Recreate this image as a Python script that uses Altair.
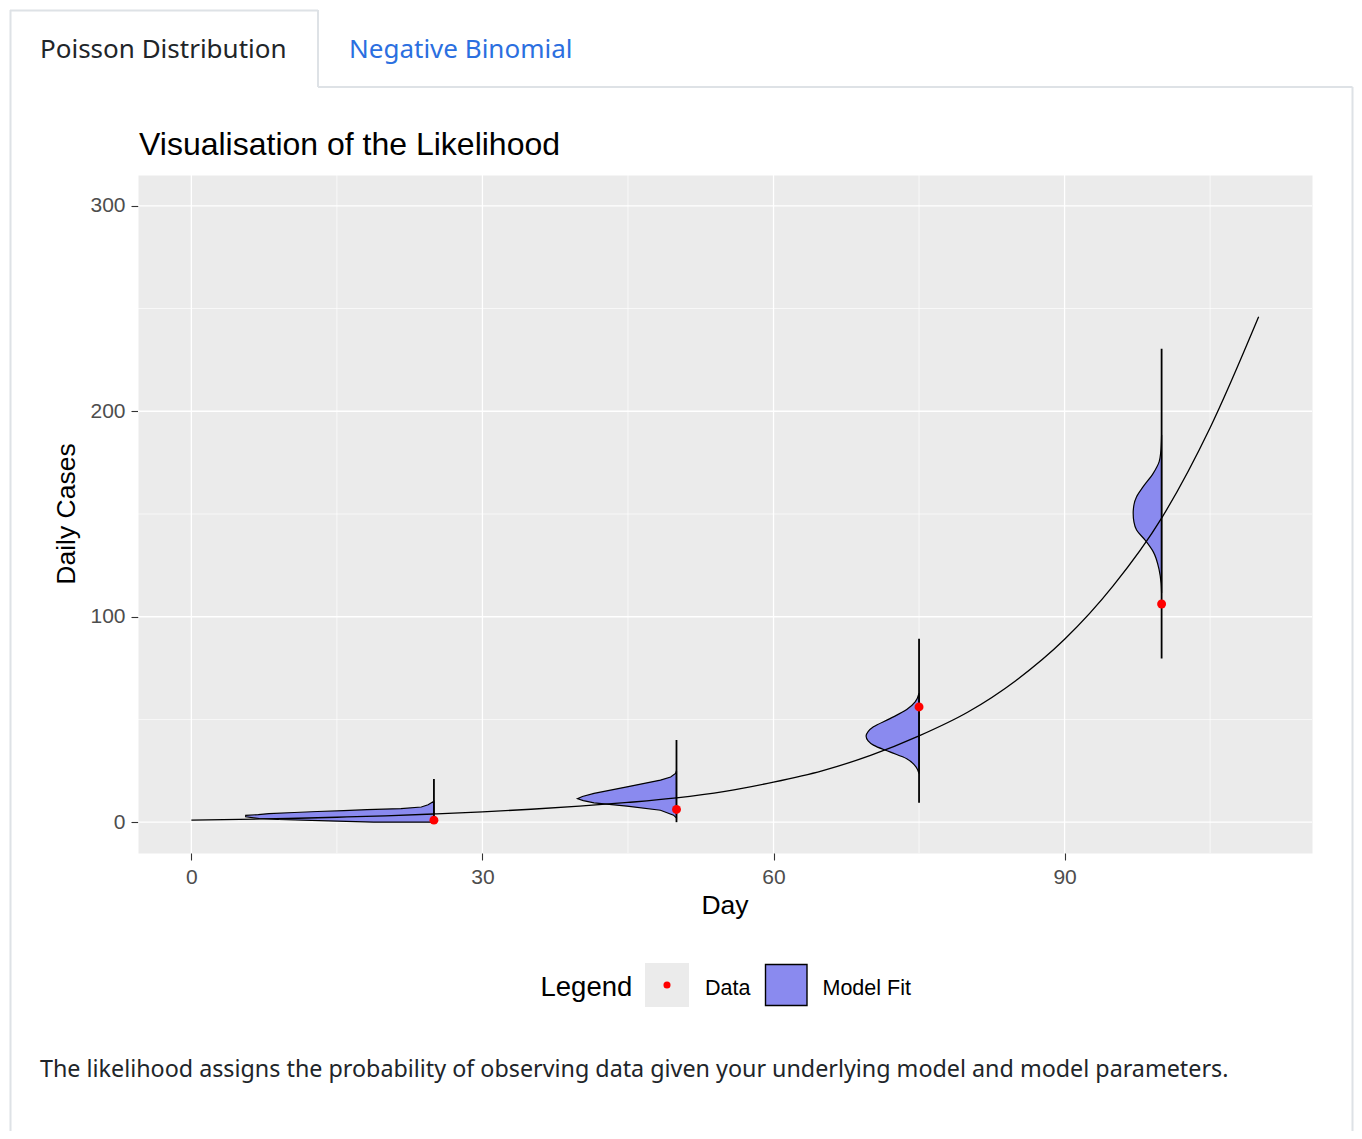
import altair as alt
import pandas as pd

# ---------------- data ----------------
model_day = [0, 5, 10, 15, 20, 25, 30, 35, 40, 45, 50, 55, 60, 65, 70, 75, 80, 85, 90, 95, 100, 105, 110]
model_cases = [1.0, 1.4, 1.8, 2.4, 3.1, 4.0, 5.0, 6.3, 7.8, 9.6, 11.8, 15.0, 19.5, 25.0, 32.5, 42.0,
               53.5, 69.0, 89.0, 115.0, 148.0, 192.0, 246.0]

obs_day = [25, 50, 75, 100]
obs_cases = [1.0, 6.2, 56.1, 106.2]

band_day = [25, 50, 75, 100]
band_low = [0.0, 0.0, 9.5, 79.7]
band_high = [21.0, 40.0, 89.3, 230.4]

# likelihood profiles: cases and horizontal width (in days) of each half-violin
d25_cases = [0, 0.6, 1.3, 1.8, 2.6, 3.3, 3.7, 4.2, 4.7, 5.2, 5.6, 6.1, 6.6, 7.4, 8.5, 10.2]
d25_width = [6.2, 10.9, 16.0, 18.0, 19.4, 19.4, 18.1, 17.0, 14.4, 12.0, 9.3, 6.9, 3.4, 1.3, 0.6, 0.0]

d50_cases = [2.0, 3.4, 5.8, 7.8, 9.4, 10.5, 11.4, 12.5, 14.0, 17.2, 20.5, 22.0, 23.7, 25.0]
d50_width = [0.0, 0.3, 1.65, 5.1, 8.5, 9.6, 10.2, 9.7, 8.5, 5.1, 1.65, 0.6, 0.1, 0.0]

d75_cases = [23.7, 26.8, 30.9, 34.2, 37.5, 39.6, 41.9, 44.1, 46.4, 50.4, 54.8, 58.5, 62.8]
d75_width = [0.0, 0.3, 1.27, 3.0, 4.7, 5.25, 5.46, 5.25, 4.7, 3.0, 1.27, 0.4, 0.0]

d100_cases = [111.5, 116.2, 122.7, 131.7, 137.4, 142.2, 146.0, 150.3, 154.5, 158.4, 163.3, 169.8, 175.5, 179.6, 188.5]
d100_width = [0.0, 0.05, 0.25, 0.87, 1.72, 2.58, 2.85, 2.93, 2.85, 2.58, 1.9, 0.87, 0.25, 0.1, 0.0]

x_major = [0, 30, 60, 90]
x_minor = [15, 45, 75, 105]
y_major = [0, 100, 200, 300]
y_minor = [50, 150, 250]

# ---------------- layout ----------------
W, H = 1174, 678          # plot panel
X0, Y0 = 138, 175         # page position of the panel
PAD_L, PAD_T = X0 - 8, Y0 - 8
SVG_W, SVG_H = 1346, 1123


def px(v):
    return v - X0


def py(v):
    return v - Y0


xs = alt.Scale(domain=[-5.5, 115.5], nice=False, zero=False)
ys = alt.Scale(domain=[-15, 315], nice=False, zero=False)

axis_common = dict(title=None, grid=False, domain=False, ticks=True, tickSize=7,
                   tickColor="#333333", tickWidth=1.1, labelFont="Liberation Sans",
                   labelFontSize=21, labelColor="#4D4D4D", format="d")
xaxis = alt.Axis(values=x_major, labelPadding=6, **axis_common)
yaxis = alt.Axis(values=y_major, labelPadding=6, **axis_common)


def X(f):
    return alt.X(f, scale=xs, axis=xaxis)


def Y(f):
    return alt.Y(f, scale=ys, axis=yaxis)


one = pd.DataFrame({"k": [0]})

grid_minor_x = alt.Chart(pd.DataFrame({"g": x_minor})).mark_rule(color="white", strokeWidth=0.65).encode(x=X("g:Q"))
grid_major_x = alt.Chart(pd.DataFrame({"g": x_major})).mark_rule(color="white", strokeWidth=1.3).encode(x=X("g:Q"))
grid_minor_y = alt.Chart(pd.DataFrame({"g": y_minor})).mark_rule(color="white", strokeWidth=0.65).encode(y=Y("g:Q"))
grid_major_y = alt.Chart(pd.DataFrame({"g": y_major})).mark_rule(color="white", strokeWidth=1.3).encode(y=Y("g:Q"))


def profile(day, cases, width):
    return pd.DataFrame({"day": [day] * len(cases), "cases": cases,
                         "left": [day - w for w in width]})


df_small = pd.concat([profile(25, d25_cases, d25_width), profile(50, d50_cases, d50_width)])
df_big = pd.concat([profile(75, d75_cases, d75_width), profile(100, d100_cases, d100_width)])

FILL = "#8A8AEF"
area_small = alt.Chart(df_small).mark_area(orient="horizontal", interpolate="linear", fill=FILL,
                                           stroke="black", strokeWidth=1.2).encode(
    x=X("left:Q"), x2="day:Q", y=Y("cases:Q"), detail="day:N")
area_big = alt.Chart(df_big).mark_area(orient="horizontal", interpolate="monotone", fill=FILL,
                                       stroke="black", strokeWidth=1.2).encode(
    x=X("left:Q"), x2="day:Q", y=Y("cases:Q"), detail="day:N")

bands = alt.Chart(pd.DataFrame({"day": band_day, "low": band_low, "high": band_high})).mark_rule(
    color="black", strokeWidth=1.8).encode(x=X("day:Q"), y=Y("low:Q"), y2="high:Q")

curve = alt.Chart(pd.DataFrame({"day": model_day, "cases": model_cases})).mark_line(
    color="black", strokeWidth=1.3, interpolate="monotone").encode(x=X("day:Q"), y=Y("cases:Q"))

points = alt.Chart(pd.DataFrame({"day": obs_day, "cases": obs_cases})).mark_circle(
    color="red", size=80, opacity=1).encode(x=X("day:Q"), y=Y("cases:Q"))


# ---------------- decorations (text / frames) ----------------
def text(t, x, y, size, font="Liberation Sans", color="black", align="left", angle=0, baseline="alphabetic"):
    kw = dict(font=font, fontSize=size, color=color, align=align, baseline=baseline)
    if angle:
        kw["angle"] = angle
    return alt.Chart(pd.DataFrame({"t": [t]})).mark_text(**kw).encode(
        x=alt.value(x), y=alt.value(y), text="t:N")


def hline(xa, xb, y, color="#DEE2E6", w=2):
    return alt.Chart(one).mark_rule(color=color, strokeWidth=w).encode(
        x=alt.value(xa), x2=alt.value(xb), y=alt.value(y))


def vline(x, ya, yb, color="#DEE2E6", w=2):
    return alt.Chart(one).mark_rule(color=color, strokeWidth=w).encode(
        x=alt.value(x), y=alt.value(ya), y2=alt.value(yb))


def rect(xa, xb, ya, yb, fill, stroke=None, sw=0):
    kw = dict(fill=fill)
    if stroke:
        kw.update(stroke=stroke, strokeWidth=sw)
    return alt.Chart(one).mark_rect(**kw).encode(
        x=alt.value(xa), x2=alt.value(xb), y=alt.value(ya), y2=alt.value(yb))


RIGHT = 8 + SVG_W - 1.5
BOTTOM = 8 + SVG_H
frames = [
    hline(px(10), px(318), py(10.5)),
    vline(px(10.5), py(10), py(BOTTOM)),
    vline(px(318), py(10), py(87)),
    hline(px(318), px(RIGHT), py(87)),
    vline(px(RIGHT), py(87), py(BOTTOM)),
]

texts = [
    text("Poisson Distribution", px(40), py(57.5), 26, font="Noto Sans", color="#212529"),
    text("Negative Binomial", px(349), py(57.5), 26, font="Noto Sans", color="#2B6FE0"),
    text("Visualisation of the Likelihood", px(139), py(155), 32),
    text("Day", px(725), py(914), 26.5, align="center"),
    text("Daily Cases", px(75), py(514), 26.5, align="center", angle=270),
    text("Legend", px(540.5), py(996), 27.5),
    text("Data", px(705), py(994.5), 21.5),
    text("Model Fit", px(822.5), py(994.5), 21.5),
    text("The likelihood assigns the probability of observing data given your underlying model and model parameters.",
         px(40), py(1077), 23.3, font="Noto Sans", color="#212529"),
]

legend_marks = [
    rect(px(645), px(689), py(963), py(1007), "#EBEBEB"),
    alt.Chart(one).mark_circle(color="red", size=50, opacity=1).encode(x=alt.value(px(667)), y=alt.value(py(985))),
    rect(px(765.5), px(807), py(964.5), py(1005.5), FILL, stroke="black", sw=1.4),
]

chart = alt.layer(
    grid_minor_x, grid_minor_y, grid_major_x, grid_major_y,
    area_small, area_big, bands, curve, points,
    *frames, *texts, *legend_marks
).properties(
    width=W, height=H,
    autosize=alt.AutoSizeParams(type="none"),
    padding={"left": PAD_L, "top": PAD_T, "right": SVG_W - PAD_L - W, "bottom": SVG_H - PAD_T - H},
    background="white",
).configure_view(fill="#EBEBEB", stroke="transparent")

chart.save("out.html", embed_options={"renderer": "svg", "actions": False})
